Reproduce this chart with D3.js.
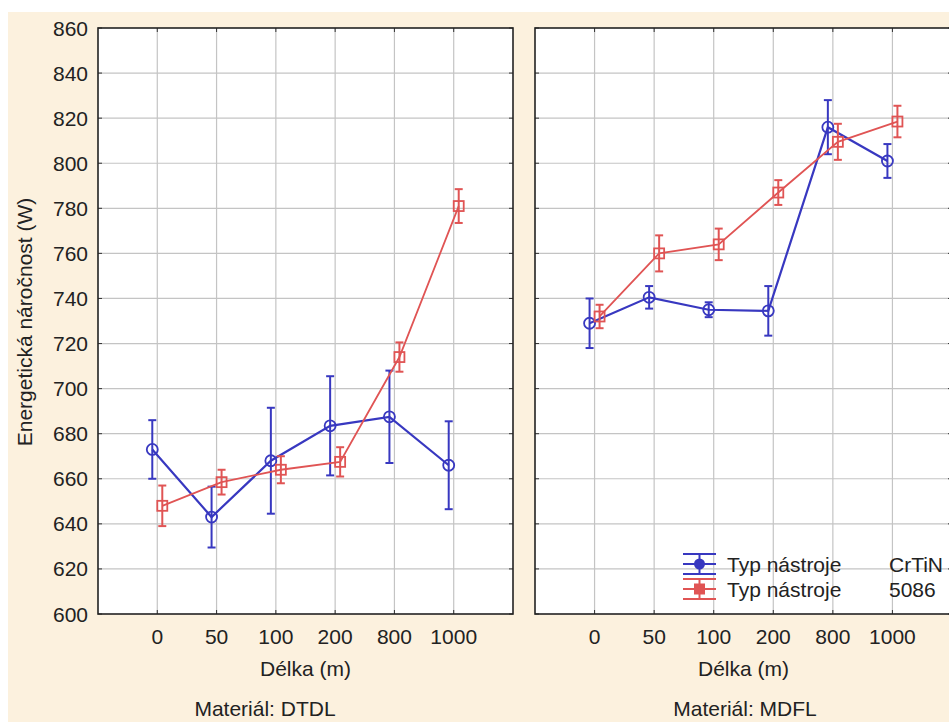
<!DOCTYPE html>
<html>
<head>
<meta charset="utf-8">
<script src="https://cdn.jsdelivr.net/npm/d3@7"></script>
<style>
  body { margin: 0; background: #fff; }
  text { font-family: "Liberation Sans", Arial, sans-serif; fill: #222; }
</style>
</head>
<body>
<div id="main"></div>
<script>
// values
const categories = ["0", "50", "100", "200", "800", "1000"];
const yTicks = [600, 620, 640, 660, 680, 700, 720, 740, 760, 780, 800, 820, 840, 860];

const dtdlCrtin = [673, 643, 668, 683.5, 687.5, 666];
const dtdlCrtinErr = [13, 13.5, 23.5, 22, 20.5, 19.5];
const dtdl5086 = [648, 658.5, 664, 667.5, 714, 781];
const dtdl5086Err = [9, 5.5, 6, 6.5, 6.5, 7.5];

const mdflCrtin = [729, 740.5, 735, 734.5, 816, 801];
const mdflCrtinErr = [11, 5, 3.3, 11, 12, 7.5];
const mdfl5086 = [732, 760, 764, 787, 809.5, 818.5];
const mdfl5086Err = [5.2, 8, 7, 5.5, 8, 7];

const blue = "#3838c0", red = "#e05454";
const fs = 21;

let svg = d3.select("#main").append("svg")
	.attr("width", 949)
	.attr("height", 722);

svg.append("rect")
	.attr("x", 8).attr("y", 12)
	.attr("width", 941).attr("height", 710)
	.attr("fill", "#fcf1de");

let y = d3.scaleLinear().domain([600, 860]).range([614, 28]);

let drawPanel = (x0, x1, crtin, crtinErr, s5086, s5086Err, material, matX, showY) => {
	let x = d3.scalePoint().domain(categories).range([x0, x1]).padding(1);
	let g = svg.append("g");

	g.append("rect")
		.attr("x", x0).attr("y", y(860))
		.attr("width", x1 - x0).attr("height", y(600) - y(860))
		.attr("fill", "#fff");

	// grid
	g.selectAll(".gy").data(yTicks.slice(1, -1)).enter().append("line")
		.attr("x1", x0).attr("x2", x1)
		.attr("y1", d => y(d)).attr("y2", d => y(d))
		.attr("stroke", "#c4c4c4").attr("stroke-width", 1.2);
	g.selectAll(".gx").data(categories).enter().append("line")
		.attr("x1", d => x(d)).attr("x2", d => x(d))
		.attr("y1", y(860)).attr("y2", y(600))
		.attr("stroke", "#c4c4c4").attr("stroke-width", 1.2);

	// inward ticks
	g.selectAll(".ty").data(yTicks).enter().append("line")
		.attr("x1", x0).attr("x2", x0 + 4)
		.attr("y1", d => y(d)).attr("y2", d => y(d))
		.attr("stroke", "#333");
	g.selectAll(".ty2").data(yTicks).enter().append("line")
		.attr("x1", x1).attr("x2", x1 - 4)
		.attr("y1", d => y(d)).attr("y2", d => y(d))
		.attr("stroke", "#333");
	g.selectAll(".tx").data(categories).enter().append("line")
		.attr("x1", d => x(d)).attr("x2", d => x(d))
		.attr("y1", y(600)).attr("y2", y(600) - 4)
		.attr("stroke", "#333");
	g.selectAll(".tx2").data(categories).enter().append("line")
		.attr("x1", d => x(d)).attr("x2", d => x(d))
		.attr("y1", y(860)).attr("y2", y(860) + 4)
		.attr("stroke", "#333");

	g.append("rect")
		.attr("x", x0).attr("y", y(860))
		.attr("width", x1 - x0).attr("height", y(600) - y(860))
		.attr("fill", "none").attr("stroke", "#222").attr("stroke-width", 1.6);

	// x labels
	g.selectAll(".lx").data(categories).enter().append("text")
		.attr("x", d => x(d)).attr("y", 644)
		.attr("text-anchor", "middle").attr("font-size", fs)
		.text(d => d);
	g.append("text")
		.attr("x", (x0 + x1) / 2).attr("y", 676)
		.attr("text-anchor", "middle").attr("font-size", fs)
		.text("Délka (m)");
	g.append("text")
		.attr("x", matX).attr("y", 716)
		.attr("text-anchor", "middle").attr("font-size", fs)
		.text("Materiál: " + material);

	if (showY) {
		g.selectAll(".ly").data(yTicks).enter().append("text")
			.attr("x", x0 - 10).attr("y", d => y(d) + 7.5)
			.attr("text-anchor", "end").attr("font-size", fs)
			.text(d => d);
	}

	let series = [
		{vals: crtin, err: crtinErr, color: blue, dx: -5, shape: "circle", w: 2.2},
		{vals: s5086, err: s5086Err, color: red, dx: 5, shape: "square", w: 1.8}
	];
	series.forEach(s => {
		let pts = categories.map((c, i) => ({x: x(c) + s.dx, v: s.vals[i], e: s.err[i]}));
		g.append("path")
			.attr("d", d3.line().x(d => d.x).y(d => y(d.v))(pts))
			.attr("fill", "none").attr("stroke", s.color).attr("stroke-width", s.w);
		let eb = g.selectAll(null).data(pts).enter().append("g").attr("stroke", s.color).attr("stroke-width", 2);
		eb.append("line")
			.attr("x1", d => d.x).attr("x2", d => d.x)
			.attr("y1", d => y(d.v + d.e)).attr("y2", d => y(d.v - d.e));
		eb.append("line")
			.attr("x1", d => d.x - 4).attr("x2", d => d.x + 4)
			.attr("y1", d => y(d.v + d.e)).attr("y2", d => y(d.v + d.e));
		eb.append("line")
			.attr("x1", d => d.x - 4).attr("x2", d => d.x + 4)
			.attr("y1", d => y(d.v - d.e)).attr("y2", d => y(d.v - d.e));
		if (s.shape === "circle") {
			g.selectAll(null).data(pts).enter().append("circle")
				.attr("cx", d => d.x).attr("cy", d => y(d.v)).attr("r", 5.5)
				.attr("fill", "none").attr("stroke", s.color).attr("stroke-width", 1.8);
		} else {
			g.selectAll(null).data(pts).enter().append("rect")
				.attr("x", d => d.x - 5).attr("y", d => y(d.v) - 5)
				.attr("width", 10).attr("height", 10)
				.attr("fill", "none").attr("stroke", s.color).attr("stroke-width", 1.8);
		}
	});
};

drawPanel(98, 513, dtdlCrtin, dtdlCrtinErr, dtdl5086, dtdl5086Err, "DTDL", 265, true);
drawPanel(535, 952, mdflCrtin, mdflCrtinErr, mdfl5086, mdfl5086Err, "MDFL", 745, false);

// legend
let legend = [
	{label: "Typ nástroje", value: "CrTiN", color: blue, shape: "circle", cy: 564},
	{label: "Typ nástroje", value: "5086", color: red, shape: "square", cy: 589}
];
legend.forEach(l => {
	let lg = svg.append("g").attr("stroke", l.color).attr("stroke-width", 2);
	[-10, 0, 10].forEach(off => {
		lg.append("line").attr("x1", 683).attr("x2", 716)
			.attr("y1", l.cy + off).attr("y2", l.cy + off);
	});
	lg.append("line").attr("x1", 699.5).attr("x2", 699.5)
		.attr("y1", l.cy - 10).attr("y2", l.cy + 10);
	if (l.shape === "circle") {
		lg.append("circle").attr("cx", 699.5).attr("cy", l.cy).attr("r", 4.5).attr("fill", l.color);
	} else {
		lg.append("rect").attr("x", 695).attr("y", l.cy - 4.5).attr("width", 9).attr("height", 9).attr("fill", l.color);
	}
	svg.append("text").attr("x", 727).attr("y", l.cy + 7.5).attr("font-size", fs).text(l.label);
	svg.append("text").attr("x", 889).attr("y", l.cy + 7.5).attr("font-size", fs).text(l.value);
});

// y title
svg.append("text")
	.attr("transform", "translate(32,322) rotate(-90)")
	.attr("text-anchor", "middle").attr("font-size", fs)
	.text("Energetická náročnost (W)");
</script>
</body>
</html>
